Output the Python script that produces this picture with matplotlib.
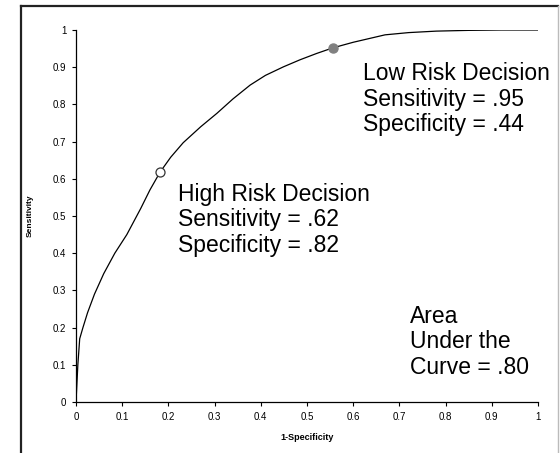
import matplotlib
matplotlib.use('Agg')
import matplotlib.pyplot as plt
from matplotlib.lines import Line2D

plt.rcParams['font.family'] = ['Liberation Sans', 'DejaVu Sans']

# ROC curve (1-specificity, sensitivity)
fpr = [0, 0.002, 0.004, 0.008, 0.015, 0.025, 0.04, 0.06, 0.084, 0.11, 0.14,
       0.16, 0.182, 0.205, 0.232, 0.27, 0.305, 0.34, 0.377, 0.41, 0.449,
       0.485, 0.521, 0.556, 0.6, 0.669, 0.72, 0.78, 0.85, 0.92, 1.0]
tpr = [0, 0.05, 0.1, 0.17, 0.2, 0.24, 0.29, 0.345, 0.4, 0.45, 0.52,
       0.57, 0.618, 0.658, 0.697, 0.74, 0.776, 0.815, 0.852, 0.878, 0.901,
       0.92, 0.937, 0.952, 0.967, 0.987, 0.993, 0.997, 0.999, 1.0, 1.0]

# decision points
high_risk = (0.182, 0.618)
low_risk = (0.556, 0.952)

ticks = [0, 0.1, 0.2, 0.3, 0.4, 0.5, 0.6, 0.7, 0.8, 0.9, 1]
tick_labels = ['0', '0.1', '0.2', '0.3', '0.4', '0.5', '0.6', '0.7', '0.8', '0.9', '1']

fig = plt.figure(figsize=(5.6, 4.53), dpi=100)
ax = fig.add_axes([76 / 560, 51 / 453, 462 / 560, 372 / 453])

ax.plot(fpr, tpr, color='black', lw=0.9)
ax.plot(*high_risk, 'o', ms=6.5, mfc='white', mec='#333333', mew=0.9)
ax.plot(*low_risk, 'o', ms=6.5, mfc='#808080', mec='#808080')

ax.set_xlim(0, 1)
ax.set_ylim(0, 1)
ax.set_xticks(ticks)
ax.set_xticklabels(tick_labels)
ax.set_yticks(ticks)
ax.set_yticklabels(tick_labels)
ax.tick_params(direction='out', length=3, width=0.8, labelsize=7, pad=4)
for side in ['top', 'right']:
    ax.spines[side].set_visible(False)
for side in ['left', 'bottom']:
    ax.spines[side].set_linewidth(0.9)

ax.set_xlabel('1-Specificity', fontsize=6.5, fontweight='bold', labelpad=8)
ax.set_ylabel('Sensitivity', fontsize=6, fontweight='bold', labelpad=14)

txt = dict(fontsize=16.5, va='top', ha='left', linespacing=1.14)
ax.text(0.621, 0.914, 'Low Risk Decision\nSensitivity = .95\nSpecificity = .44', **txt)
ax.text(0.221, 0.589, 'High Risk Decision\nSensitivity = .62\nSpecificity = .82', **txt)
ax.text(0.723, 0.261, 'Area\nUnder the\nCurve = .80', **txt)

# outer frame
fig.add_artist(Line2D([21 / 560, 21 / 560], [0, 1 - 6 / 453], color='#222222', lw=1.6))
fig.add_artist(Line2D([21 / 560, 558 / 560], [1 - 6 / 453, 1 - 6 / 453], color='#222222', lw=1.6))
fig.add_artist(Line2D([558 / 560, 558 / 560], [0, 1 - 6 / 453], color='#bbbbbb', lw=1.0))

fig.savefig('out.png', dpi=100)
